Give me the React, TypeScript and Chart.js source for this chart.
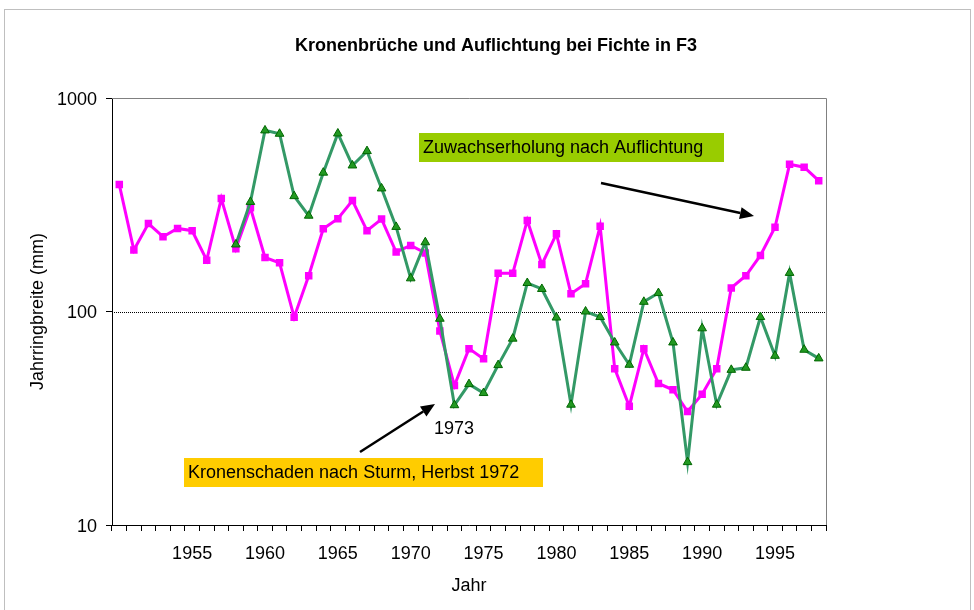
import React, { useEffect, useRef } from "react";
import { Chart, registerables } from "chart.js";

Chart.register(...registerables);

const years: number[] = [
  1950, 1951, 1952, 1953, 1954, 1955, 1956, 1957, 1958, 1959,
  1960, 1961, 1962, 1963, 1964, 1965, 1966, 1967, 1968, 1969,
  1970, 1971, 1972, 1973, 1974, 1975, 1976, 1977, 1978, 1979,
  1980, 1981, 1982, 1983, 1984, 1985, 1986, 1987, 1988, 1989,
  1990, 1991, 1992, 1993, 1994, 1995, 1996, 1997, 1998,
];

// pink squares
const pinkSeries: (number | null)[] = [
  393, 194, 258, 224, 245, 239, 174, 338, 197, 306,
  179, 169, 94, 147, 244, 272, 331, 239, 271, 190,
  204, 188, 81, 45, 67, 60, 151, 151, 267, 166,
  231, 121, 135, 251, 54, 36, 67, 46, 43, 34,
  41, 54, 129, 147, 183, 248, 489, 474, 410,
];

// green triangles
const greenSeries: (number | null)[] = [
  null, null, null, null, null, null, null, null, 206, 326,
  705, 680, 347, 281, 447, 682, 483, 564, 377, 249,
  143, 211, 92.5, 36.4, 45.7, 41.5, 56.1, 74.6, 136, 127.5,
  93.7, 36.6, 100, 94.2, 71.6, 56.3, 111, 122, 71.6, 19.7,
  83.4, 36.6, 53.3, 54.5, 94.2, 62, 151.6, 66.2, 60.3,
];

const yTickValues: number[] = [10, 100, 1000];
const xLabelYears: number[] = [1955, 1960, 1965, 1970, 1975, 1980, 1985, 1990, 1995];

const titleText = "Kronenbrüche und Auflichtung bei Fichte in F3";
const yTitle = "Jahrringbreite (mm)";
const xTitle = "Jahr";
const noteGreen = "Zuwachserholung nach Auflichtung";
const noteYellow = "Kronenschaden nach Sturm, Herbst 1972";
const note1973 = "1973";

const FONT = "'Liberation Sans', Arial, Helvetica, sans-serif";

function arrow(ctx: CanvasRenderingContext2D, x1: number, y1: number, x2: number, y2: number) {
  const ang = Math.atan2(y2 - y1, x2 - x1);
  const hl = 14;
  const hw = 6;
  const bx = x2 - Math.cos(ang) * hl;
  const by = y2 - Math.sin(ang) * hl;
  ctx.save();
  ctx.strokeStyle = "#000";
  ctx.fillStyle = "#000";
  ctx.lineWidth = 2.5;
  ctx.beginPath();
  ctx.moveTo(x1, y1);
  ctx.lineTo(bx, by);
  ctx.stroke();
  ctx.beginPath();
  ctx.moveTo(x2, y2);
  ctx.lineTo(bx + Math.sin(ang) * hw, by - Math.cos(ang) * hw);
  ctx.lineTo(bx - Math.sin(ang) * hw, by + Math.cos(ang) * hw);
  ctx.closePath();
  ctx.fill();
  ctx.restore();
}

const decorPlugin = {
  id: "decor",
  beforeDraw(chart: any) {
    const ctx: CanvasRenderingContext2D = chart.ctx;
    ctx.save();
    ctx.fillStyle = "#fff";
    ctx.fillRect(0, 0, chart.width, chart.height);
    ctx.strokeStyle = "#bfbfbf";
    ctx.lineWidth = 1;
    ctx.strokeRect(4.5, 9.5, 966, 620);
    ctx.restore();
  },
  beforeDatasetsDraw(chart: any) {
    const ctx: CanvasRenderingContext2D = chart.ctx;
    const { left, right, top } = chart.chartArea;
    const y = chart.scales.y;
    ctx.save();
    // plot border top/right
    ctx.strokeStyle = "#808080";
    ctx.lineWidth = 1;
    ctx.beginPath();
    ctx.moveTo(left, Math.round(top) + 0.5);
    ctx.lineTo(Math.round(right) + 0.5, Math.round(top) + 0.5);
    ctx.lineTo(Math.round(right) + 0.5, chart.chartArea.bottom);
    ctx.stroke();
    // dotted gridline at 100
    const py = Math.round(y.getPixelForValue(100)) + 0.5;
    ctx.strokeStyle = "#000";
    ctx.setLineDash([1, 1]);
    ctx.beginPath();
    ctx.moveTo(left, py);
    ctx.lineTo(right, py);
    ctx.stroke();
    ctx.restore();
  },
  afterDraw(chart: any) {
    const ctx: CanvasRenderingContext2D = chart.ctx;
    const { left, right, top, bottom } = chart.chartArea;
    const ys = chart.scales.y;
    ctx.save();
    ctx.fillStyle = "#000";
    // title
    ctx.font = `bold 18px ${FONT}`;
    ctx.textAlign = "center";
    ctx.textBaseline = "alphabetic";
    ctx.fillText(titleText, 496, 51);
    // y tick labels
    ctx.font = `18px ${FONT}`;
    ctx.textAlign = "right";
    for (const v of yTickValues) {
      const py = ys.getPixelForValue(v);
      ctx.fillText(String(v), left - 15, py + 6.5);
    }
    // x title
    ctx.textAlign = "center";
    ctx.fillText(xTitle, (left + right) / 2, 591);
    // y title
    ctx.save();
    ctx.translate(38, (top + bottom) / 2);
    ctx.rotate(-Math.PI / 2);
    ctx.textBaseline = "middle";
    ctx.fillText(yTitle, 0, 0);
    ctx.restore();

    // green note
    ctx.fillStyle = "#99CC00";
    ctx.fillRect(419, 133, 305, 29);
    ctx.fillStyle = "#000";
    ctx.textAlign = "left";
    ctx.textBaseline = "alphabetic";
    ctx.fillText(noteGreen, 423, 152.5);

    // yellow note
    ctx.fillStyle = "#FFCC00";
    ctx.fillRect(184, 458, 359, 29);
    ctx.fillStyle = "#000";
    ctx.fillText(noteYellow, 188, 477.5);

    // 1973
    ctx.fillText(note1973, 434, 434);

    arrow(ctx, 601, 183, 754, 216);
    arrow(ctx, 360, 452, 435, 404);
    ctx.restore();
  },
};

export default function App() {
  const ref = useRef<HTMLCanvasElement | null>(null);
  useEffect(() => {
    if (!ref.current) return;
    const chart = new Chart(ref.current, {
      type: "line",
      data: {
        labels: years.map(String),
        datasets: [
          {
            label: "Fichte B",
            data: greenSeries,
            borderColor: "#339966",
            borderWidth: 3,
            pointStyle: "triangle",
            pointRadius: 5,
            pointBackgroundColor: "#229922",
            pointBorderColor: "#006600",
            pointBorderWidth: 1,
            tension: 0,
            spanGaps: false,
            order: 0,
          },
          {
            label: "Fichte A",
            data: pinkSeries,
            borderColor: "#FF00FF",
            borderWidth: 3,
            pointStyle: "rect",
            pointRadius: 5.3,
            pointBackgroundColor: "#FF00FF",
            pointBorderColor: "#FF00FF",
            pointBorderWidth: 0,
            tension: 0,
            order: 1,
          },
        ],
      },
      options: {
        animation: false,
        responsive: false,
        devicePixelRatio: 1,
        layout: { padding: { top: 98, right: 148, left: 0, bottom: 0 } },
        plugins: {
          legend: { display: false },
          tooltip: { enabled: false },
          title: { display: false },
        },
        scales: {
          x: {
            type: "category",
            offset: true,
            afterFit: (s: any) => {
              s.height = 85;
            },
            grid: {
              offset: true,
              drawOnChartArea: false,
              drawTicks: true,
              tickLength: 6,
              color: "#000",
              tickColor: "#000",
            },
            border: { color: "#000", width: 1 },
            ticks: {
              autoSkip: false,
              maxRotation: 0,
              minRotation: 0,
              padding: 12,
              color: "#000",
              font: { family: FONT, size: 18 },
              callback: (_v: any, i: number) =>
                xLabelYears.includes(years[i]) ? String(years[i]) : "",
            },
          },
          y: {
            type: "logarithmic",
            min: 10,
            max: 1000,
            afterFit: (s: any) => {
              s.width = 112;
            },
            afterBuildTicks: (s: any) => {
              s.ticks = yTickValues.map((v) => ({ value: v }));
            },
            grid: {
              drawOnChartArea: false,
              drawTicks: true,
              tickLength: 6,
              color: "#000",
              tickColor: "#000",
            },
            border: { color: "#000", width: 1 },
            ticks: {
              display: false,
            },
          },
        },
      },
      plugins: [decorPlugin],
    });
    return () => chart.destroy();
  }, []);
  return (
    <div style={{ position: "absolute", left: 0, top: 0, width: 974, height: 610 }}>
      <canvas ref={ref} width={974} height={610} style={{ display: "block" }} />
    </div>
  );
}
